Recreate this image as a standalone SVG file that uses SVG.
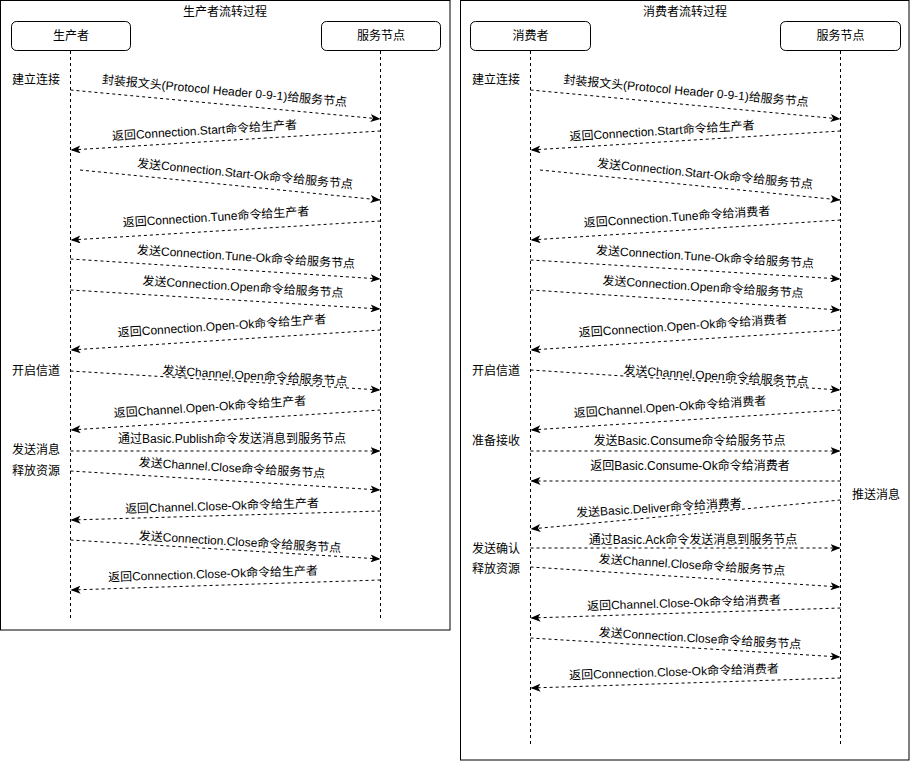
<svg xmlns="http://www.w3.org/2000/svg" width="911" height="761" viewBox="0 0 911 761">
<defs>
<marker id="arr" markerUnits="userSpaceOnUse" markerWidth="10" markerHeight="8" viewBox="0 0 10 8" refX="10" refY="4" orient="auto">
<path d="M0,0 L10,4 L0,8 L2.5,4 Z" fill="#000"/>
</marker>
<style>
text{font-family:"Liberation Sans","Noto Sans CJK SC",sans-serif;font-size:12px;fill:#000;dominant-baseline:central}
.c{text-anchor:middle}
.frame{fill:#fff;stroke:#000;stroke-width:1}
.box{fill:#fff;stroke:#000;stroke-width:1}
.life{stroke:#000;stroke-width:1;stroke-dasharray:3 3;fill:none}
.msg{stroke:#000;stroke-width:1;stroke-dasharray:3 3;fill:none;marker-end:url(#arr)}
</style>
</defs>
<rect width="911" height="761" fill="#fff"/>
<g id="producer-panel">
<rect class="frame" x="0.5" y="0.5" width="449.5" height="629.5"/>
<text class="c" x="225" y="12">生产者流转过程</text>
</g>
<g id="consumer-panel">
<rect class="frame" x="460.5" y="0.5" width="448.5" height="759.5"/>
<text class="c" x="685" y="12">消费者流转过程</text>
</g>
<g id="producer">
<rect class="box" x="11.5" y="21.5" width="119" height="29" rx="5"/>
<text class="c" x="71" y="36">生产者</text>
<line class="life" x1="70.5" y1="51" x2="70.5" y2="620"/>
</g>
<g id="server-left">
<rect class="box" x="321.5" y="21.5" width="119" height="29" rx="5"/>
<text class="c" x="381" y="36">服务节点</text>
<line class="life" x1="380.5" y1="51" x2="380.5" y2="620"/>
</g>
<g id="consumer">
<rect class="box" x="470.5" y="21.5" width="120" height="29" rx="5"/>
<text class="c" x="530.5" y="36">消费者</text>
<line class="life" x1="530.5" y1="51" x2="530.5" y2="747"/>
</g>
<g id="server-right">
<rect class="box" x="780.5" y="21.5" width="120" height="29" rx="5"/>
<text class="c" x="840.5" y="36">服务节点</text>
<line class="life" x1="840.5" y1="51" x2="840.5" y2="747"/>
</g>
<g id="phase-labels">
<text x="12" y="80">建立连接</text>
<text x="12" y="371">开启信道</text>
<text x="12" y="450">发送消息</text>
<text x="12" y="471">释放资源</text>
<text x="472" y="80">建立连接</text>
<text x="472" y="371">开启信道</text>
<text x="472" y="441">准备接收</text>
<text x="852" y="495">推送消息</text>
<text x="472" y="549">发送确认</text>
<text x="472" y="569">释放资源</text>
</g>
<g id="connectors">
<line class="msg" x1="70.5" y1="90" x2="380.5" y2="119"/>
<line class="msg" x1="380.5" y1="131" x2="70.5" y2="150"/>
<line class="msg" x1="80" y1="170" x2="380.5" y2="200"/>
<line class="msg" x1="380.5" y1="221" x2="70.5" y2="240"/>
<line class="msg" x1="70.5" y1="259" x2="380.5" y2="279"/>
<line class="msg" x1="70.5" y1="290" x2="380.5" y2="309"/>
<line class="msg" x1="380.5" y1="330" x2="70.5" y2="350"/>
<line class="msg" x1="70.5" y1="371" x2="380.5" y2="390"/>
<line class="msg" x1="380.5" y1="410" x2="70.5" y2="430"/>
<line class="msg" x1="70.5" y1="451" x2="380.5" y2="451"/>
<line class="msg" x1="70.5" y1="471" x2="380.5" y2="490"/>
<line class="msg" x1="380.5" y1="511" x2="70.5" y2="520"/>
<line class="msg" x1="70.5" y1="540" x2="380.5" y2="559"/>
<line class="msg" x1="380.5" y1="580" x2="70.5" y2="590"/>

<line class="msg" x1="530.5" y1="90" x2="840.5" y2="119"/>
<line class="msg" x1="840.5" y1="131" x2="530.5" y2="150"/>
<line class="msg" x1="540" y1="170" x2="840.5" y2="200"/>
<line class="msg" x1="840.5" y1="220" x2="530.5" y2="240"/>
<line class="msg" x1="530.5" y1="260" x2="840.5" y2="279"/>
<line class="msg" x1="530.5" y1="290" x2="840.5" y2="310"/>
<line class="msg" x1="840.5" y1="330" x2="530.5" y2="350"/>
<line class="msg" x1="530.5" y1="370" x2="840.5" y2="390"/>
<line class="msg" x1="840.5" y1="410" x2="530.5" y2="430"/>
<line class="msg" x1="530.5" y1="451" x2="840.5" y2="451"/>
<line class="msg" x1="840.5" y1="481" x2="530.5" y2="481"/>
<line class="msg" x1="840.5" y1="500" x2="530.5" y2="529"/>
<line class="msg" x1="530.5" y1="548" x2="840.5" y2="548"/>
<line class="msg" x1="530.5" y1="567" x2="840.5" y2="587"/>
<line class="msg" x1="840.5" y1="608" x2="530.5" y2="618"/>
<line class="msg" x1="530.5" y1="638" x2="840.5" y2="657"/>
<line class="msg" x1="840.5" y1="678" x2="530.5" y2="688"/>
</g>
<g id="connector-labels">
<text class="c" x="224.5" y="91" transform="rotate(5.3 224.5 91)">封装报文头(Protocol Header 0-9-1)给服务节点</text>
<text class="c" x="204.5" y="130.5" transform="rotate(-3.5 204.5 130.5)">返回Connection.Start命令给生产者</text>
<text class="c" x="245" y="174" transform="rotate(5.7 245 174)">发送Connection.Start-Ok命令给服务节点</text>
<text class="c" x="216" y="217" transform="rotate(-3.5 216 217)">返回Connection.Tune命令给生产者</text>
<text class="c" x="246" y="257" transform="rotate(3.7 246 257)">发送Connection.Tune-Ok命令给服务节点</text>
<text class="c" x="243" y="287" transform="rotate(3.5 243 287)">发送Connection.Open命令给服务节点</text>
<text class="c" x="222" y="326" transform="rotate(-3.7 222 326)">返回Connection.Open-Ok命令给生产者</text>
<text class="c" x="255" y="376" transform="rotate(3.5 255 376)">发送Channel.Open命令给服务节点</text>
<text class="c" x="210" y="407" transform="rotate(-3.7 210 407)">返回Channel.Open-Ok命令给生产者</text>
<text class="c" x="232" y="439">通过Basic.Publish命令发送消息到服务节点</text>
<text class="c" x="232" y="468" transform="rotate(3.5 232 468)">发送Channel.Close命令给服务节点</text>
<text class="c" x="222" y="506" transform="rotate(-1.7 222 506)">返回Channel.Close-Ok命令给生产者</text>
<text class="c" x="240" y="542" transform="rotate(3.5 240 542)">发送Connection.Close命令给服务节点</text>
<text class="c" x="213" y="574" transform="rotate(-1.85 213 574)">返回Connection.Close-Ok命令给生产者</text>

<text class="c" x="686" y="91" transform="rotate(5.3 686 91)">封装报文头(Protocol Header 0-9-1)给服务节点</text>
<text class="c" x="662" y="131" transform="rotate(-3.5 662 131)">返回Connection.Start命令给生产者</text>
<text class="c" x="705" y="174" transform="rotate(5.7 705 174)">发送Connection.Start-Ok命令给服务节点</text>
<text class="c" x="677" y="217" transform="rotate(-3.7 677 217)">返回Connection.Tune命令给消费者</text>
<text class="c" x="705" y="257" transform="rotate(3.5 705 257)">发送Connection.Tune-Ok命令给服务节点</text>
<text class="c" x="703" y="287" transform="rotate(3.7 703 287)">发送Connection.Open命令给服务节点</text>
<text class="c" x="683" y="326" transform="rotate(-3.7 683 326)">返回Connection.Open-Ok命令给消费者</text>
<text class="c" x="716" y="376" transform="rotate(3.7 716 376)">发送Channel.Open命令给服务节点</text>
<text class="c" x="670" y="407" transform="rotate(-3.7 670 407)">返回Channel.Open-Ok命令给消费者</text>
<text class="c" x="689.5" y="441">发送Basic.Consume命令给服务节点</text>
<text class="c" x="690" y="466">返回Basic.Consume-Ok命令给消费者</text>
<text class="c" x="659" y="508" transform="rotate(-3.5 659 508)">发送Basic.Deliver命令给消费者</text>
<text class="c" x="693" y="540">通过Basic.Ack命令发送消息到服务节点</text>
<text class="c" x="692" y="565" transform="rotate(3.7 692 565)">发送Channel.Close命令给服务节点</text>
<text class="c" x="684" y="603" transform="rotate(-1.85 684 603)">返回Channel.Close-Ok命令给消费者</text>
<text class="c" x="700" y="638.5" transform="rotate(3.5 700 638.5)">发送Connection.Close命令给服务节点</text>
<text class="c" x="674" y="672" transform="rotate(-1.85 674 672)">返回Connection.Close-Ok命令给消费者</text>
</g>
</svg>
